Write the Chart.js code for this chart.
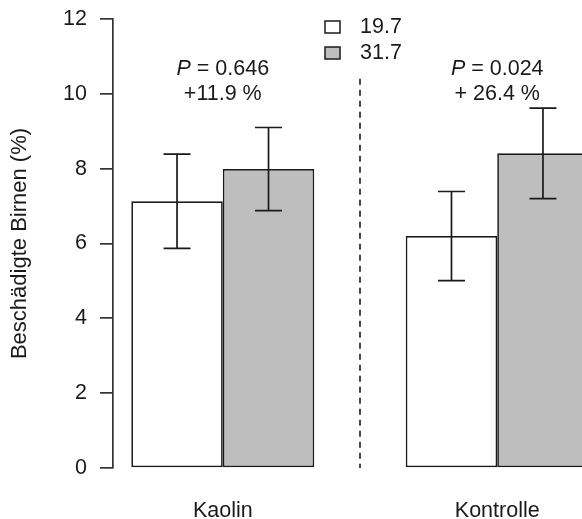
<!DOCTYPE html>
<html>
<head>
<meta charset="utf-8">
<script src="https://cdn.jsdelivr.net/npm/chart.js@4.4.1/dist/chart.umd.min.js"></script>
<style>
	html, body { margin: 0; padding: 0; background: #fff; }
	#wrap { width: 582px; height: 519px; overflow: hidden; }
	#chart { display: block; }
</style>
</head>
<body>
<div id="wrap"><canvas id="chart" width="620" height="519"></canvas></div>
<script>
const groups = ['Kaolin', 'Kontrolle'];
const series_names = ['19.7', '31.7'];
const means_197 = [7.13, 6.20];
const means_317 = [7.99, 8.41];
const err_197 = [1.26, 1.19];
const err_317 = [1.11, 1.21];
const p_values = ['0.646', '0.024'];
const changes = ['+11.9 %', '+ 26.4 %'];
const y_ticks = [0, 2, 4, 6, 8, 10, 12];

// barplot layout: two bars of width 1 per group, one unit gap before each group
const group_pos = groups.map((g, i) => 2 + 3 * i);

const ink = '#1a1a1a';
const font_family = '"Liberation Sans", Arial, sans-serif';

// error bars on top of the bars
const error_bars = {
	id: 'error_bars',
	afterDatasetsDraw(chart){
		const ctx = chart.ctx;
		const y = chart.scales.y;
		const errs = [err_197, err_317];
		ctx.save();
		ctx.strokeStyle = ink;
		ctx.lineWidth = 1.7;
		chart.data.datasets.forEach((ds, d) => {
			chart.getDatasetMeta(d).data.forEach((bar, i) => {
				const top = y.getPixelForValue(ds.data[i] + errs[d][i]);
				const bottom = y.getPixelForValue(ds.data[i] - errs[d][i]);
				ctx.beginPath();
				ctx.moveTo(bar.x, top);
				ctx.lineTo(bar.x, bottom);
				ctx.moveTo(bar.x - 13.5, top);
				ctx.lineTo(bar.x + 13.5, top);
				ctx.moveTo(bar.x - 13.5, bottom);
				ctx.lineTo(bar.x + 13.5, bottom);
				ctx.stroke();
			});
		});
		ctx.restore();
	}
};

// divider, P values, legend
const annotations = {
	id: 'annotations',
	afterDraw(chart){
		const ctx = chart.ctx;
		const x = chart.scales.x;
		const y = chart.scales.y;
		ctx.save();

		// dashed line between groups
		const mid = x.getPixelForValue((group_pos[0] + group_pos[1]) / 2);
		ctx.strokeStyle = ink;
		ctx.lineWidth = 1.6;
		ctx.setLineDash([6, 5]);
		ctx.beginPath();
		ctx.moveTo(mid, y.getPixelForValue(10.4));
		ctx.lineTo(mid, y.getPixelForValue(0));
		ctx.stroke();
		ctx.setLineDash([]);

		ctx.fillStyle = ink;
		ctx.textBaseline = 'middle';
		ctx.textAlign = 'left';
		groups.forEach((g, i) => {
			const cx = x.getPixelForValue(group_pos[i]);
			const italic = 'italic 21.5px ' + font_family;
			const normal = '21.5px ' + font_family;
			ctx.font = italic;
			const w_p = ctx.measureText('P').width;
			ctx.font = normal;
			const rest = ' = ' + p_values[i];
			const w_rest = ctx.measureText(rest).width;
			let left = cx - (w_p + w_rest) / 2;
			const py = y.getPixelForValue(10.65);
			ctx.font = italic;
			ctx.fillText('P', left, py);
			ctx.font = normal;
			ctx.fillText(rest, left + w_p, py);
			ctx.textAlign = 'center';
			ctx.fillText(changes[i], cx, y.getPixelForValue(10.0));
			ctx.textAlign = 'left';
		});

		// legend
		ctx.font = '21.5px ' + font_family;
		ctx.lineWidth = 1.5;
		chart.data.datasets.forEach((ds, d) => {
			const ly = 27 + d * 26;
			ctx.fillStyle = ds.backgroundColor;
			ctx.fillRect(325, ly - 6, 15, 12);
			ctx.strokeStyle = ink;
			ctx.strokeRect(325, ly - 6, 15, 12);
			ctx.fillStyle = ink;
			ctx.fillText(ds.label, 360, ly);
		});
		ctx.restore();
	}
};

const data = {
	labels: group_pos,
	datasets: [
		{
			label: series_names[0],
			data: means_197,
			backgroundColor: '#ffffff',
			borderColor: ink,
			borderWidth: 1.7,
			borderSkipped: false
		},
		{
			label: series_names[1],
			data: means_317,
			backgroundColor: '#bebebe',
			borderColor: ink,
			borderWidth: 1.7,
			borderSkipped: false
		}
	]
};

const config = {
	type: 'bar',
	data: data,
	options: {
		responsive: false,
		animation: false,
		categoryPercentage: 2 / 3,
		barPercentage: 1,
		layout: {
			padding: { left: 0, top: 19, right: 13, bottom: 0 }
		},
		plugins: {
			legend: { display: false },
			tooltip: { enabled: false }
		},
		scales: {
			x: {
				type: 'linear',
				min: 0.8,
				max: 6.2,
				offset: false,
				bounds: 'data',
				grid: { display: false, drawTicks: false },
				border: { display: false },
				afterBuildTicks: function(scale){
					scale.ticks = group_pos.map(v => ({ value: v }));
				},
				afterFit: function(scale){
					scale.height = 51;
					scale.paddingLeft = 0;
					scale.paddingRight = 0;
				},
				ticks: {
					padding: 30,
					color: ink,
					font: { family: font_family, size: 21.5 },
					maxRotation: 0,
					autoSkip: false,
					callback: function(value){
						const i = group_pos.indexOf(value);
						return i >= 0 ? groups[i] : '';
					}
				}
			},
			y: {
				min: 0,
				max: 12,
				afterBuildTicks: function(scale){
					scale.ticks = y_ticks.map(v => ({ value: v }));
				},
				afterFit: function(scale){
					scale.width = 113;
					scale.paddingTop = 0;
					scale.paddingBottom = 0;
				},
				grid: {
					display: true,
					drawOnChartArea: false,
					drawTicks: true,
					tickLength: 13,
					color: '#333',
					lineWidth: 1.7
				},
				border: { display: true, color: '#333', width: 1.7 },
				ticks: {
					padding: 13,
					color: ink,
					font: { family: font_family, size: 21.5 }
				},
				title: {
					display: true,
					text: 'Beschädigte Birnen (%)',
					color: ink,
					font: { family: font_family, size: 22 },
					padding: { top: 7, bottom: 0 }
				}
			}
		}
	},
	plugins: [error_bars, annotations]
};

new Chart(document.getElementById('chart'), config);
</script>
</body>
</html>
